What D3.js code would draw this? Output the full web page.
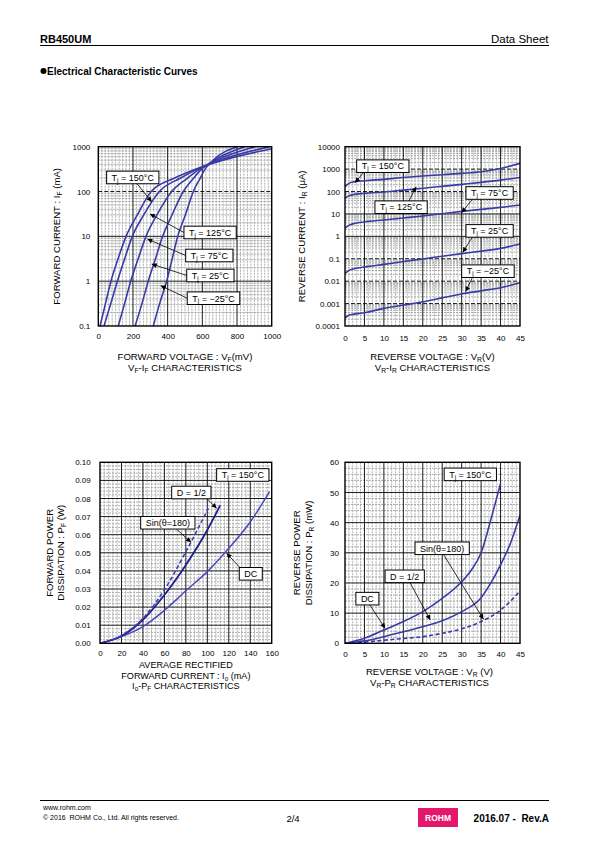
<!DOCTYPE html>
<html><head><meta charset="utf-8">
<script src="https://cdn.jsdelivr.net/npm/d3@7"></script>
<style>
body{margin:0;background:#fff}
svg{display:block}
text{font-family:"Liberation Sans",Arial,Helvetica,sans-serif;fill:#000}
</style>
</head><body>
<svg id="c" width="595" height="842"></svg>
<script>
// ================= DATA =================
// Chart 1 : VF - IF  (VF in mV, IF in mA)
const vfTicks = [0, 200, 400, 600, 800, 1000];
const ifTicks = [0.1, 1, 10, 100, 1000];
const ifTickLabels = ["0.1", "1", "10", "100", "1000"];
const vfIf150 = [[10,0.1],[40,0.3],[73,1],[112,3],[160,10],[225,30],[305,100],[440,200],[545,300],[720,500],[1000,900]];
const vfIf125 = [[33,0.1],[70,0.3],[110,1],[150,3],[196,10],[262,30],[352,100],[475,200],[560,300],[700,500],[990,1000]];
const vfIf75  = [[115,0.1],[150,0.3],[187,1],[228,3],[275,10],[338,30],[423,100],[515,200],[575,300],[680,500],[905,1000]];
const vfIf25  = [[212,0.1],[250,0.3],[288,1],[328,3],[371,10],[425,30],[490,100],[550,200],[590,300],[668,500],[845,1000]];
const vfIfm25 = [[317,0.1],[352,0.3],[394,1],[425,3],[458,10],[502,30],[548,100],[588,200],[612,300],[662,500],[805,1000]];

// Chart 2 : VR - IR  (VR in V, IR in uA)
const vrTicks = [0, 5, 10, 15, 20, 25, 30, 35, 40, 45];
const irTicks = [0.0001, 0.001, 0.01, 0.1, 1, 10, 100, 1000, 10000];
const irTickLabels = ["0.0001", "0.001", "0.01", "0.1", "1", "10", "100", "1000", "10000"];
const vrIr150 = [[0,164],[1,230],[2,265],[5,304],[10,349],[15,420],[20,490],[25,560],[30,646],[35,767],[40,1070],[45,1810]];
const vrIr125 = [[0,50],[1,64],[2,72],[5,83],[10,95],[15,115],[20,139],[25,170],[30,209],[35,257],[40,324],[45,427]];
const vrIr75  = [[0,2.3],[1,3.1],[2,3.6],[5,4.4],[10,5.4],[15,6.6],[20,8.1],[25,10.2],[30,13],[35,16],[40,19.6],[45,25]];
const vrIr25  = [[0,0.022],[1,0.03],[2,0.035],[5,0.043],[10,0.056],[15,0.075],[20,0.098],[25,0.13],[30,0.17],[35,0.22],[40,0.29],[45,0.46]];
const vrIrm25 = [[0,0.00023],[1,0.0003],[2,0.00033],[5,0.00039],[10,0.00061],[15,0.00086],[20,0.0012],[25,0.0018],[30,0.0027],[35,0.0037],[40,0.0051],[45,0.0085]];

// Chart 3 : Io - PF  (Io in mA, PF in W)
const ioTicks = [0, 20, 40, 60, 80, 100, 120, 140, 160];
const pfTicks = [0, 0.01, 0.02, 0.03, 0.04, 0.05, 0.06, 0.07, 0.08, 0.09, 0.10];
const ioPfDC   = [[0,0],[20,0.0037],[40,0.0092],[60,0.0182],[80,0.029],[100,0.0396],[120,0.0525],[140,0.067],[158,0.0838]];
const ioPfHalf = [[0,0],[20,0.004],[40,0.013],[60,0.0267],[80,0.0433],[100,0.0626],[112,0.0762]];
const ioPfSin  = [[0,0],[20,0.0042],[40,0.0138],[60,0.0295],[80,0.0506],[101,0.0746]];

// Chart 4 : VR - PR  (VR in V, PR in mW)
const vr2Ticks = [0, 5, 10, 15, 20, 25, 30, 35, 40, 45];
const prTicks = [0, 10, 20, 30, 40, 50, 60];
const vrPrDC   = [[0,0],[5,1.7],[10,4.4],[15,7.2],[20,10.5],[25,14.9],[30,20.4],[32.5,24.3],[35,30],[37.5,41],[40,53]];
const vrPrHalf = [[0,0],[5,0.8],[10,2.2],[15,3.8],[20,5.5],[25,7.5],[30,10.5],[35,15.1],[37.5,20],[40,26],[42.5,33],[45,42.5]];
const vrPrSin  = [[0,0],[5,0.4],[10,1.0],[15,1.6],[20,2.2],[25,3.3],[30,4.8],[35,7.2],[40,11],[45,17.3]];

// ================= DRAWING =================
const svg = d3.select("#c");
const defs = svg.append("defs");
defs.append("marker").attr("id","ah").attr("viewBox","0 0 10 10")
  .attr("refX",10).attr("refY",5).attr("markerWidth",6).attr("markerHeight",5)
  .attr("markerUnits","userSpaceOnUse").attr("orient","auto")
  .append("path").attr("d","M0,0L10,5L0,10z").attr("fill","#000");

function rich(t, parts, fs) {
  let prev = 0;
  parts.forEach(p => {
    const s = typeof p === "string" ? p : p[0];
    const sub = typeof p !== "string";
    const off = sub ? fs * 0.22 : 0;
    const ts = t.append("tspan").text(s);
    if (sub) ts.attr("font-size", fs * 0.7);
    if (off - prev !== 0) ts.attr("dy", off - prev);
    prev = off;
  });
  return t;
}

let clipId = 0;
function panel(p) {
  const x = d3.scaleLinear().domain(p.xDomain).range([p.left, p.right]);
  const y = (p.log ? d3.scaleLog() : d3.scaleLinear()).domain(p.yDomain).range([p.bottom, p.top]);
  const g = svg.append("g");
  const eq = (a, b) => Math.abs(a - b) < 1e-9 * Math.max(1, Math.abs(b));

  // minor grid
  const xMinor = d3.range(p.xDomain[0], p.xDomain[1] + 1e-9, p.xMinor).filter(v => !p.xTicks.some(t => eq(v, t)));
  let yMinor;
  if (p.log) {
    yMinor = [];
    for (let d = p.yDomain[0]; d < p.yDomain[1] * 0.999; d *= 10) for (let k = 2; k <= 9; k++) yMinor.push(d * k);
  } else {
    yMinor = d3.range(p.yDomain[0], p.yDomain[1] + 1e-9, p.yMinor).filter(v => !p.yTicks.some(t => eq(v, t)));
  }
  const mg = g.append("g").attr("stroke", "#9a9a9a").attr("stroke-width", 0.8).attr("stroke-dasharray", "2,1");
  mg.selectAll(".vx").data(xMinor).join("line")
    .attr("x1", d => x(d)).attr("x2", d => x(d)).attr("y1", p.top).attr("y2", p.bottom);
  mg.selectAll(".hy").data(yMinor).join("line")
    .attr("y1", d => y(d)).attr("y2", d => y(d)).attr("x1", p.left).attr("x2", p.right);

  // major grid
  const Mg = g.append("g").attr("stroke", "#000").attr("stroke-width", 0.9);
  Mg.selectAll(".mx").data(p.xTicks.slice(1, -1)).join("line")
    .attr("x1", d => x(d)).attr("x2", d => x(d)).attr("y1", p.top).attr("y2", p.bottom);
  Mg.selectAll(".my").data(p.yTicks.slice(1, -1)).join("line")
    .attr("y1", d => y(d)).attr("y2", d => y(d)).attr("x1", p.left).attr("x2", p.right)
    .attr("stroke-dasharray", d => (p.dashedY || []).some(v => eq(v, d)) ? "4,2" : null);

  // axes (labels)
  const ax = d3.axisBottom(x).tickValues(p.xTicks).tickFormat(p.xFmt || (d => d)).tickSize(0).tickPadding(p.xPad);
  const axg = g.append("g").attr("transform", `translate(0,${p.bottom})`).call(ax);
  axg.select(".domain").remove();
  axg.selectAll("text").attr("font-size", 8).attr("font-family", null).attr("fill", "#000");
  const ay = d3.axisLeft(y).tickValues(p.yTicks).tickFormat((d, i) => p.yLabels[i]).tickSize(0).tickPadding(p.yPad);
  const ayg = g.append("g").attr("transform", `translate(${p.left},0)`).call(ay);
  ayg.select(".domain").remove();
  ayg.selectAll("text").attr("font-size", 8).attr("font-family", null).attr("fill", "#000");

  // series
  const cid = "clip" + (clipId++);
  defs.append("clipPath").attr("id", cid).append("rect")
    .attr("x", p.left).attr("y", p.top).attr("width", p.right - p.left).attr("height", p.bottom - p.top);
  const line = d3.line().x(d => x(d[0])).y(d => y(d[1])).curve(d3.curveMonotoneX);
  g.append("g").attr("clip-path", `url(#${cid})`).selectAll("path").data(p.series).join("path")
    .attr("d", s => line(s.data)).attr("fill", "none")
    .attr("stroke", s => s.color).attr("stroke-width", s => s.width || 1.6)
    .attr("stroke-dasharray", s => s.dash || null);

  // frame
  g.append("rect").attr("x", p.left).attr("y", p.top).attr("width", p.right - p.left).attr("height", p.bottom - p.top)
    .attr("fill", "none").attr("stroke", "#000").attr("stroke-width", 1.4);

  // notes
  (p.notes || []).forEach(n => {
    if (n.from) {
      g.append("line").attr("x1", x(n.from[0])).attr("y1", y(n.from[1]))
        .attr("x2", x(n.tip[0])).attr("y2", y(n.tip[1]))
        .attr("stroke", "#000").attr("stroke-width", 0.8).attr("marker-end", "url(#ah)");
    }
    const bx = x(n.at[0]), by = y(n.at[1]);
    const fs = 9;
    const rect = g.append("rect");
    const t = rich(g.append("text").attr("x", bx + 5).attr("y", by + 3.3).attr("font-size", fs), n.text, fs);
    const w = t.node().getComputedTextLength();
    rect.attr("x", bx).attr("y", by - 6.3).attr("width", w + 10).attr("height", 12.6)
      .attr("fill", "#fff").attr("stroke", "#000").attr("stroke-width", 1);
  });

  // titles
  const cx = (p.left + p.right) / 2, cy = (p.top + p.bottom) / 2;
  const tfs = p.titleSize || 9.6;
  p.xTitle.forEach((parts, i) => {
    rich(g.append("text").attr("x", cx + (p.xTitleDx || 0)).attr("y", p.xTitleY[i]).attr("text-anchor", "middle").attr("font-size", tfs), parts, tfs);
  });
  p.yTitle.forEach((parts, i) => {
    rich(g.append("text").attr("transform", `translate(${p.yTitleX[i]},${cy}) rotate(-90)`).attr("text-anchor", "middle").attr("font-size", 9.6), parts, 9.6);
  });
}

const blue = "#3a3aa6";
const Tj = (rest) => ["T", ["j"], rest];

// Chart 1
panel({
  left: 98.3, right: 271.7, top: 146.7, bottom: 326,
  xDomain: [0, 1000], yDomain: [0.1, 1000], log: true,
  xTicks: vfTicks, yTicks: ifTicks, yLabels: ifTickLabels, xMinor: 20,
  dashedY: [100], xPad: 7.8, yPad: 8,
  series: [vfIf150, vfIf125, vfIf75, vfIf25, vfIfm25].map(d => ({ data: d, color: blue })),
  notes: [
    { text: Tj(" = 150°C"), at: [48, 206], from: [221, 153], tip: [308, 59] },
    { text: Tj(" = 125°C"), at: [494, 12.2], from: [494, 12.2], tip: [298, 31.6] },
    { text: Tj(" = 75°C"), at: [504, 3.74], from: [504, 3.74], tip: [283, 8.7] },
    { text: Tj(" = 25°C"), at: [510, 1.34], from: [510, 1.34], tip: [308, 2.42] },
    { text: Tj(" = −25°C"), at: [513, 0.417], from: [513, 0.417], tip: [360, 0.794] }
  ],
  xTitle: [["FORWARD VOLTAGE : V", ["F"], "(mV)"], ["V", ["F"], "-I", ["F"], " CHARACTERISTICS"]],
  xTitleY: [360, 370.7],
  yTitle: [["FORWARD CURRENT : I", ["F"], " (mA)"]], yTitleX: [59.5]
});

// Chart 2
panel({
  left: 345, right: 520, top: 146.7, bottom: 326,
  xDomain: [0, 45], yDomain: [0.0001, 10000], log: true,
  xTicks: vrTicks, yTicks: irTicks, yLabels: irTickLabels, xMinor: 1,
  dashedY: [1000, 100, 0.1, 0.01, 0.001], xPad: 9.5, yPad: 5,
  series: [vrIr150, vrIr125, vrIr75, vrIr25, vrIrm25].map(d => ({ data: d, color: blue })),
  notes: [
    { text: Tj(" = 150°C"), at: [3.0, 1350], from: [5.1, 820], tip: [2.57, 248] },
    { text: Tj(" = 125°C"), at: [7.7, 20], from: [16.3, 34], tip: [18.3, 164] },
    { text: Tj(" = 75°C"), at: [31.1, 86], from: [32.8, 46], tip: [30, 11.4] },
    { text: Tj(" = 25°C"), at: [31.1, 1.75], from: [32.8, 0.96], tip: [30.3, 0.194] },
    { text: Tj(" = −25°C"), at: [30, 0.0279], from: [32.8, 0.0149], tip: [31.0, 0.0034] }
  ],
  xTitle: [["REVERSE VOLTAGE : V", ["R"], "(V)"], ["V", ["R"], "-I", ["R"], " CHARACTERISTICS"]],
  xTitleY: [360, 370.7],
  yTitle: [["REVERSE CURRENT : I", ["R"], " (μA)"]], yTitleX: [305]
});

// Chart 3
panel({
  left: 100, right: 271.7, top: 462.3, bottom: 643.3,
  xDomain: [0, 160], yDomain: [0, 0.10], log: false,
  xTicks: ioTicks, yTicks: pfTicks, yLabels: pfTicks.map(d => d.toFixed(2)), xMinor: 4, yMinor: 0.002,
  xPad: 6.6, yPad: 9.3,
  series: [
    { data: ioPfDC, color: "#4b4bb8", width: 1.5 },
    { data: ioPfHalf, color: "#1e1e8c", width: 1.8 },
    { data: ioPfSin, color: "#4040b0", width: 1.6, dash: "4,2.5" }
  ],
  notes: [
    { text: Tj(" = 150°C"), at: [108.7, 0.093] },
    { text: ["D = 1/2"], at: [66.8, 0.0833], from: [99.3, 0.0801], tip: [108.7, 0.0746] },
    { text: ["Sin(θ=180)"], at: [37.9, 0.0666], from: [71.4, 0.063], tip: [84.8, 0.0558] },
    { text: ["DC"], at: [129.8, 0.0384], from: [130.5, 0.0418], tip: [118, 0.0497] }
  ],
  titleSize: 9.1,
  xTitle: [["AVERAGE RECTIFIED"], ["FORWARD CURRENT : I", ["o"], " (mA)"], ["I", ["o"], "-P", ["F"], " CHARACTERISTICS"]],
  xTitleY: [668.3, 678.8, 689.3],
  yTitle: [["FORWARD POWER"], ["DISSIPATION : P", ["F"], " (W)"]], yTitleX: [52.5, 63.5]
});

// Chart 4
panel({
  left: 345, right: 520, top: 462.3, bottom: 643.3,
  xDomain: [0, 45], yDomain: [0, 60], log: false,
  xTicks: vr2Ticks, yTicks: prTicks, yLabels: prTicks.map(String), xMinor: 1, yMinor: 2,
  xPad: 8.3, yPad: 6,
  series: [
    { data: vrPrDC, color: blue },
    { data: vrPrHalf, color: blue },
    { data: vrPrSin, color: blue, dash: "4,2.5" }
  ],
  notes: [
    { text: Tj(" = 150°C"), at: [25.5, 56] },
    { text: ["Sin(θ=180)"], at: [18, 31.5], from: [25.3, 29.5], tip: [35.6, 8.0] },
    { text: ["D = 1/2"], at: [10.3, 22.2], from: [16.7, 20.2], tip: [21.9, 7.7] },
    { text: ["DC"], at: [2.8, 14.8], from: [6.4, 12.7], tip: [10.3, 5.0] }
  ],
  xTitle: [["REVERSE VOLTAGE : V", ["R"], " (V)"], ["V", ["R"], "-P", ["R"], " CHARACTERISTICS"]],
  xTitleY: [675, 685.7], xTitleDx: -3,
  yTitle: [["REVERSE POWER"], ["DISSIPATION : P", ["R"], " (mW)"]], yTitleX: [300, 311.5]
});

// ================= PAGE FRAME =================
svg.append("text").attr("x", 40).attr("y", 42.5).attr("font-size", 11).attr("font-weight", "bold").text("RB450UM");
svg.append("text").attr("x", 548.5).attr("y", 42.5).attr("font-size", 11.5).attr("text-anchor", "end").text("Data Sheet");
svg.append("line").attr("x1", 40).attr("x2", 549).attr("y1", 45.5).attr("y2", 45.5).attr("stroke", "#000").attr("stroke-width", 1);
svg.append("circle").attr("cx", 43.5).attr("cy", 71).attr("r", 3).attr("fill", "#000");
svg.append("text").attr("x", 47).attr("y", 74.5).attr("font-size", 10).attr("font-weight", "bold").text("Electrical Characteristic Curves");

svg.append("line").attr("x1", 40).attr("x2", 549).attr("y1", 800.5).attr("y2", 800.5).attr("stroke", "#000").attr("stroke-width", 1);
svg.append("text").attr("x", 43).attr("y", 810).attr("font-size", 7).text("www.rohm.com");
svg.append("text").attr("x", 43).attr("y", 819.5).attr("font-size", 7).attr("xml:space", "preserve").text("© 2016  ROHM Co., Ltd. All rights reserved.");
svg.append("text").attr("x", 293).attr("y", 822).attr("font-size", 9.5).attr("text-anchor", "middle").text("2/4");
svg.append("rect").attr("x", 418).attr("y", 808).attr("width", 40).attr("height", 19).attr("fill", "#e5176d");
svg.append("text").attr("x", 438).attr("y", 821).attr("font-size", 8.5).attr("font-weight", "bold").attr("text-anchor", "middle").style("fill", "#fff").text("ROHM");
svg.append("text").attr("x", 549).attr("y", 822).attr("font-size", 10).attr("font-weight", "bold").attr("text-anchor", "end").attr("xml:space", "preserve").text("2016.07 -  Rev.A");
</script>
</body></html>
